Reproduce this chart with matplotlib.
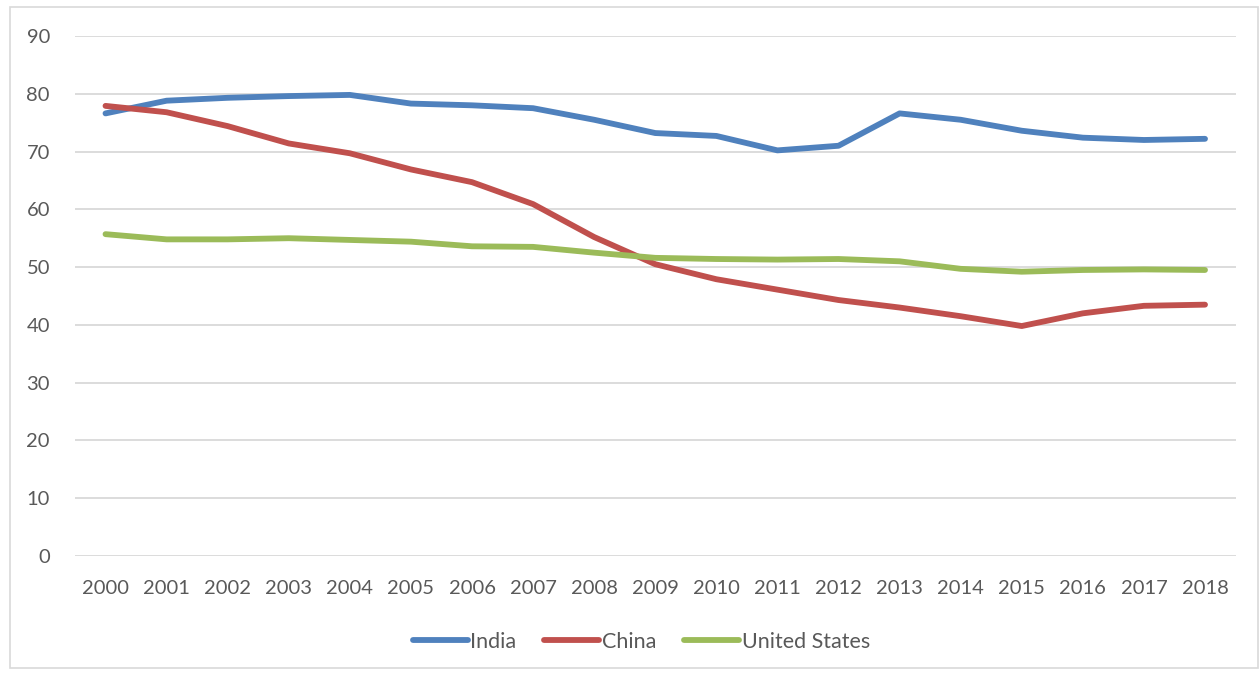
import matplotlib
matplotlib.use("Agg")
import matplotlib.pyplot as plt
from matplotlib.patches import Rectangle

years = [str(y) for y in range(2000, 2019)]
india = [76.6, 78.8, 79.3, 79.6, 79.8, 78.3, 78.0, 77.5, 75.5, 73.2, 72.7, 70.2, 71.0, 76.6, 75.5, 73.6, 72.4, 72.0, 72.2]
china = [77.9, 76.8, 74.4, 71.4, 69.7, 66.9, 64.7, 60.9, 55.2, 50.5, 47.9, 46.1, 44.3, 43.0, 41.5, 39.8, 42.0, 43.3, 43.5]
usa = [55.7, 54.8, 54.8, 55.0, 54.7, 54.4, 53.6, 53.5, 52.5, 51.6, 51.4, 51.3, 51.4, 51.0, 49.7, 49.2, 49.5, 49.6, 49.5]
series_names = ["India", "China", "United States"]
yticks = [0, 10, 20, 30, 40, 50, 60, 70, 80, 90]

colors = ["#4F81BD", "#C0504D", "#9BBB59"]
txt = "#595959"
plt.rcParams['font.family'] = ['Lato', 'DejaVu Sans']

fig = plt.figure(figsize=(12.6, 6.75), dpi=100)
ax = fig.add_axes([0.0595, 0.1763, 0.9211, 0.7704])
x = list(range(len(years)))
for vals, name, c in zip([india, china, usa], series_names, colors):
    ax.plot(x, vals, color=c, lw=4.2, label=name, solid_capstyle='round', solid_joinstyle='round')

ax.set_xlim(-0.5, len(years) - 0.5)
ax.set_ylim(0, 90)
ax.set_yticks(yticks)
ax.set_xticks(x)
ax.set_xticklabels(years)
ax.grid(axis='y', color='#D9D9D9', lw=1.3)
ax.set_axisbelow(True)
for s in ax.spines.values():
    s.set_visible(False)
ax.tick_params(axis='both', length=0, labelsize=14.5, colors=txt)
ax.tick_params(axis='y', pad=18)
ax.tick_params(axis='x', pad=17)

leg = fig.legend(loc='center', bbox_to_anchor=(0.509, 0.049), ncol=3, frameon=False,
                 fontsize=15.5, handlelength=2.55, handletextpad=0.12, columnspacing=1.3)
for t in leg.get_texts():
    t.set_color(txt)

fig.patches.append(Rectangle((10 / 1260, 1 - 668 / 675), 1248 / 1260, 661 / 675,
                             transform=fig.transFigure, fill=False, edgecolor='#D9D9D9', lw=1.2))
fig.savefig("out.png", dpi=100)
